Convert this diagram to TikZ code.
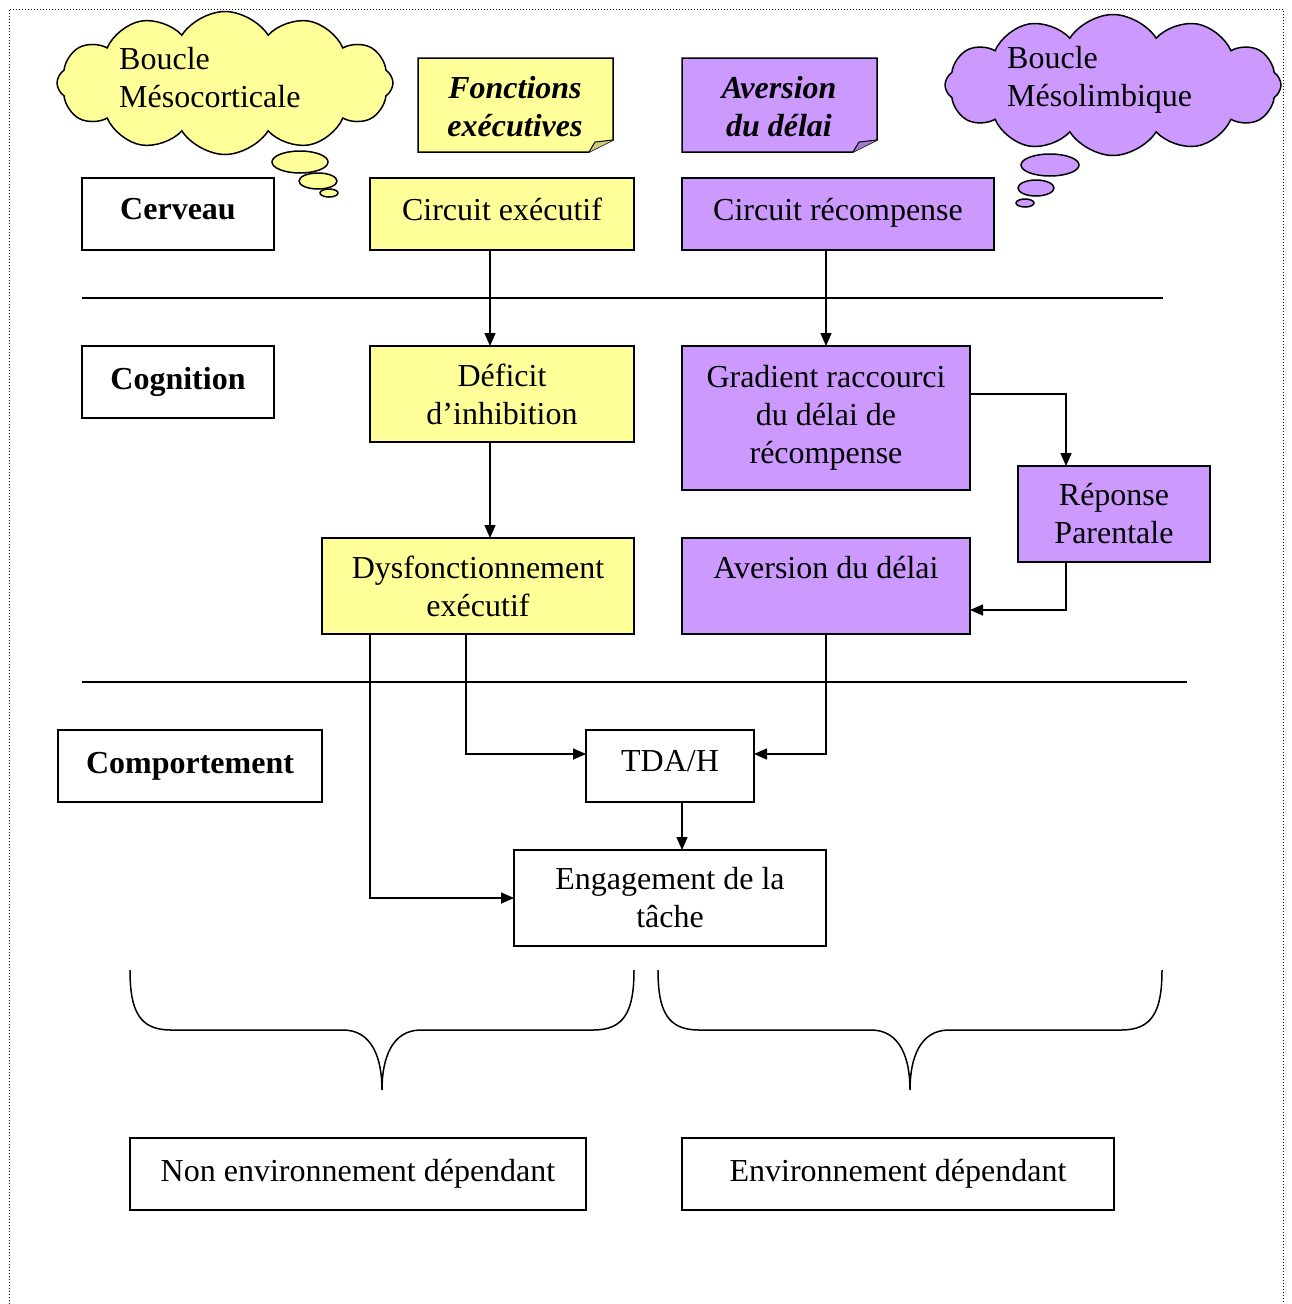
\documentclass[tikz,border=0pt]{standalone}
\usepackage{fontspec}
\setmainfont{Liberation Serif}
\usetikzlibrary{shapes.symbols,arrows.meta,calc}
\definecolor{ylw}{HTML}{FFFF99}
\definecolor{prp}{HTML}{CC99FF}
\definecolor{ylwd}{HTML}{CCCC7A}
\definecolor{prpd}{HTML}{A37ACC}
\begin{document}
\begin{tikzpicture}[x=1pt,y=-1pt,
  txt/.style={font=\fontsize{32pt}{38pt}\selectfont, align=center, inner sep=0pt},
  box/.style={txt, draw, line width=1.6pt, rectangle, outer sep=0pt},
  sz/.style 2 args={minimum width=#1pt, minimum height=#2pt},
  up/.style={text depth=10pt},
  yb/.style={box, fill=ylw},
  pb/.style={box, fill=prp},
  wb/.style={box, fill=white},
  arr/.style={line width=1.5pt, -{Triangle[length=13pt,width=11pt]}},
  rule/.style={line width=1.5pt},
  brace/.style={line width=1.5pt},
  cloudy/.style={cloud, cloud puffs=12, cloud puff arc=115, cloud ignores aspect, draw, line width=1.5pt, inner sep=0pt},
  bubble/.style={draw, line width=1.5pt},
  notef/.style={draw, line width=1.5pt},
  frame/.style={dotted, line width=1pt}
]
\useasboundingbox (0,0) rectangle (1291,1304);
% frame
\draw[frame] (9,1304) -- (9,9) -- (1283,9) -- (1283,1304);

% clouds
\node[cloudy, fill=ylw, sz={336}{143}] (cl1) at (225,83) {};
\node[txt, align=left, anchor=west] (cl1t) at (119,78) {Boucle\\Mésocorticale};
\draw[bubble, fill=ylw] (300,162) ellipse [x radius=28, y radius=11];
\draw[bubble, fill=ylw] (318,181) ellipse [x radius=19, y radius=8];
\draw[bubble, fill=ylw] (329,193) ellipse [x radius=9, y radius=4];

\node[cloudy, fill=prp, sz={336}{141}] (cl2) at (1113,85) {};
\node[txt, align=left, anchor=west] (cl2t) at (1007,80) {Boucle\\Mésolimbique};
\draw[bubble, fill=prp] (1050,165) ellipse [x radius=29, y radius=11];
\draw[bubble, fill=prp] (1036,188) ellipse [x radius=18, y radius=8];
\draw[bubble, fill=prp] (1025,203) ellipse [x radius=9, y radius=4];

% notes with folded corner
\draw[notef, fill=ylw] (418,58) -- (613,58) -- (613,140) -- (589,152) -- (418,152) -- cycle;
\draw[notef, fill=ylwd, line width=1pt] (589,152) -- (595,142) -- (613,140);
\node[txt, font=\fontsize{32pt}{38pt}\selectfont\bfseries\itshape] (n1) at (515,107) {Fonctions\\exécutives};

\draw[notef, fill=prp] (682,58) -- (877,58) -- (877,140) -- (853,152) -- (682,152) -- cycle;
\draw[notef, fill=prpd, line width=1pt] (853,152) -- (859,142) -- (877,140);
\node[txt, font=\fontsize{32pt}{38pt}\selectfont\bfseries\itshape] (n2) at (779,107) {Aversion\\du délai};

% row labels
\node[wb, up, sz={192}{72}, font=\fontsize{32pt}{38pt}\selectfont\bfseries] (cerveau) at (178,214) {Cerveau};
\node[wb, sz={192}{72}, font=\fontsize{32pt}{38pt}\selectfont\bfseries] (cognition) at (178,382) {Cognition};
\node[wb, sz={264}{72}, font=\fontsize{32pt}{38pt}\selectfont\bfseries] (comport) at (190,766) {Comportement};

% main boxes
\node[yb, up, sz={264}{72}] (circexec) at (502,214) {Circuit exécutif};
\node[pb, up, sz={312}{72}] (circrec) at (838,214) {Circuit récompense};
\node[yb, sz={264}{96}] (deficit) at (502,394) {Déficit\\d’inhibition};
\node[pb, sz={288}{144}] (gradient) at (826,418) {Gradient raccourci\\du délai de\\récompense};
\node[pb, sz={192}{96}] (reponse) at (1114,514) {Réponse\\Parentale};
\node[yb, sz={312}{96}] (dysf) at (478,586) {Dysfonctionnement\\exécutif};
\node[pb, sz={288}{96}] (aversion) at (826,586) {Aversion du délai\\\mbox{}};
\node[wb, up, sz={168}{72}] (tdah) at (670,766) {TDA/H};
\node[wb, sz={312}{96}] (engage) at (670,898) {Engagement de la\\tâche};
\node[wb, sz={456}{72}] (nonenv) at (358,1174) {Non environnement dépendant};
\node[wb, sz={432}{72}] (env) at (898,1174) {Environnement dépendant};

% separators
\draw[rule] (82,298) -- (1163,298);
\draw[rule] (82,682) -- (1187,682);

% connectors
\draw[arr] ([xshift=-12pt]circexec.south) -- ([xshift=-12pt]deficit.north);
\draw[arr] ([xshift=-12pt]circrec.south) -- (gradient.north);
\draw[arr] ([xshift=-12pt]deficit.south) -- ([xshift=12pt]dysf.north);
\draw[arr] ([yshift=24pt]gradient.east) -| ([xshift=-48pt]reponse.north);
\draw[arr] ([xshift=-48pt]reponse.south) |- ([yshift=-24pt]aversion.east);
\draw[arr] ([xshift=-12pt]dysf.south) |- ([yshift=12pt]tdah.west);
\draw[arr] (aversion.south) |- ([yshift=12pt]tdah.east);
\draw[arr] ([xshift=12pt]tdah.south) -- ([xshift=12pt]engage.north);
\draw[arr] ([xshift=-108pt]dysf.south) |- (engage.west);

% braces
\draw[brace] (130,970) .. controls (130,1012) and (140,1030) .. (171,1030) -- (343,1030)
  .. controls (372,1030) and (382,1058) .. (382,1090)
  .. controls (382,1058) and (392,1030) .. (421,1030) -- (593,1030)
  .. controls (624,1030) and (634,1012) .. (634,970);
\draw[brace] (658,970) .. controls (658,1012) and (668,1030) .. (699,1030) -- (871,1030)
  .. controls (900,1030) and (910,1058) .. (910,1090)
  .. controls (910,1058) and (920,1030) .. (949,1030) -- (1121,1030)
  .. controls (1152,1030) and (1162,1012) .. (1162,970);
\end{tikzpicture}
\end{document}
